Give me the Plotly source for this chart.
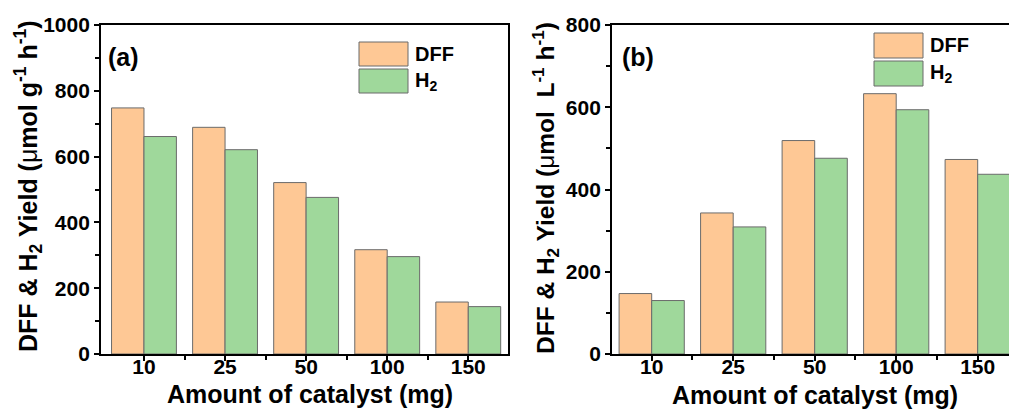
import plotly.graph_objects as go

categories = ["10", "25", "50", "100", "150"]
dff_a = [748, 689, 521, 317, 158]
h2_a = [661, 621, 476, 296, 144]
dff_b = [147, 343, 519, 633, 473]
h2_b = [130, 309, 476, 594, 437]
yticks_a = [0, 200, 400, 600, 800, 1000]
yticks_b = [0, 200, 400, 600, 800]

W, H = 1009, 417
FONT = "Arial, Liberation Sans, sans-serif"
C_DFF = "#FEC895"
C_H2 = "#9FD89B"
EDGE = "#6b6b6b"

xpos = list(range(len(categories)))

fig = go.Figure()
for vals, name, col, xa, ya in [
    (dff_a, "DFF", C_DFF, "x", "y"),
    (h2_a, "H<sub>2</sub>", C_H2, "x", "y"),
    (dff_b, "DFF", C_DFF, "x2", "y2"),
    (h2_b, "H<sub>2</sub>", C_H2, "x2", "y2"),
]:
    fig.add_trace(go.Bar(x=xpos, y=vals, name=name, xaxis=xa, yaxis=ya,
                         marker=dict(color=col, line=dict(color=EDGE, width=1)),
                         showlegend=False))

def px_x(p):
    return p / W

def px_y(p):
    return 1 - p / H

xcommon = dict(tickmode="array", tickvals=xpos, ticktext=categories,
               ticks="outside", ticklen=5, tickwidth=1.5, tickcolor="black",
               showline=True, linecolor="black", linewidth=1.8, mirror=True,
               showgrid=False, zeroline=False, automargin=False,
               ticklabelstandoff=-12,
               tickfont=dict(family=FONT, size=21, color="black", weight="bold"),
               minor=dict(tickvals=[0.5, 1.5, 2.5, 3.5], ticks="outside", ticklen=4,
                          tickwidth=1.5, tickcolor="black"))
ycommon = dict(ticks="outside", ticklen=5, tickwidth=1.5, tickcolor="black",
               showline=True, linecolor="black", linewidth=1.8,
               showgrid=False, zeroline=False, automargin=False,
               tickfont=dict(family=FONT, size=21, color="black", weight="bold"),
               minor=dict(dtick=100, ticks="outside", ticklen=4, tickwidth=1.5,
                          tickcolor="black"))

ydom = [px_y(354), px_y(25)]
fig.update_layout(
    width=W, height=H, margin=dict(l=0, r=0, t=0, b=0, autoexpand=False),
    paper_bgcolor="white", plot_bgcolor="white",
    barmode="group", bargap=0.2, bargroupgap=0,
    xaxis=dict(domain=[px_x(101), px_x(508)], range=[-0.53, 4.49], anchor="y", **xcommon),
    yaxis=dict(domain=ydom, range=[0, 1000], tickvals=yticks_a, anchor="x",
               mirror=True, **ycommon),
    xaxis2=dict(domain=[px_x(612), 1.0], range=[-0.487, 4.384], anchor="y2", **xcommon),
    yaxis2=dict(domain=ydom, range=[0, 800], tickvals=yticks_b, anchor="x2",
                mirror=False, **ycommon),
)

ann = []
def text(x, y, s, size, angle=0, xanchor="center"):
    ann.append(dict(x=px_x(x), y=px_y(y), xref="paper", yref="paper", text=s,
                    showarrow=False, textangle=angle, xanchor=xanchor, yanchor="middle",
                    font=dict(family=FONT, size=size, color="black", weight="bold")))

text(28, 186, "DFF & H<sub>2</sub> Yield (<span style='font-weight:normal'>μ</span>mol g<sup>-1</sup> h<sup>-1</sup>)", 25, angle=-90)
text(545, 188, "DFF & H<sub>2</sub> Yield (<span style='font-weight:normal'>μ</span>mol  L<sup>-1</sup> h<sup>-1</sup>)", 24.5, angle=-90)
text(310, 394, "Amount of catalyst (mg)", 25)
text(815, 395, "Amount of catalyst (mg)", 25)
text(106, 57, "(a)", 25, xanchor="left")
text(620, 57, "(b)", 25, xanchor="left")

shapes = []
def box(x0, y0, x1, y1, col):
    shapes.append(dict(type="rect", xref="paper", yref="paper",
                       x0=px_x(x0), x1=px_x(x1), y0=px_y(y1), y1=px_y(y0),
                       fillcolor=col, line=dict(color=EDGE, width=1)))

# legend (a)
box(359, 42, 408, 66, C_DFF)
box(359, 69, 408, 93, C_H2)
text(413, 54, "DFF", 20, xanchor="left")
text(413, 81, "H<sub>2</sub>", 20, xanchor="left")
# legend (b)
box(874, 33, 923, 58, C_DFF)
box(874, 61, 923, 86, C_H2)
text(928, 45, "DFF", 20, xanchor="left")
text(928, 73, "H<sub>2</sub>", 20, xanchor="left")

fig.update_layout(annotations=ann, shapes=shapes)
fig.write_html("out.html")
